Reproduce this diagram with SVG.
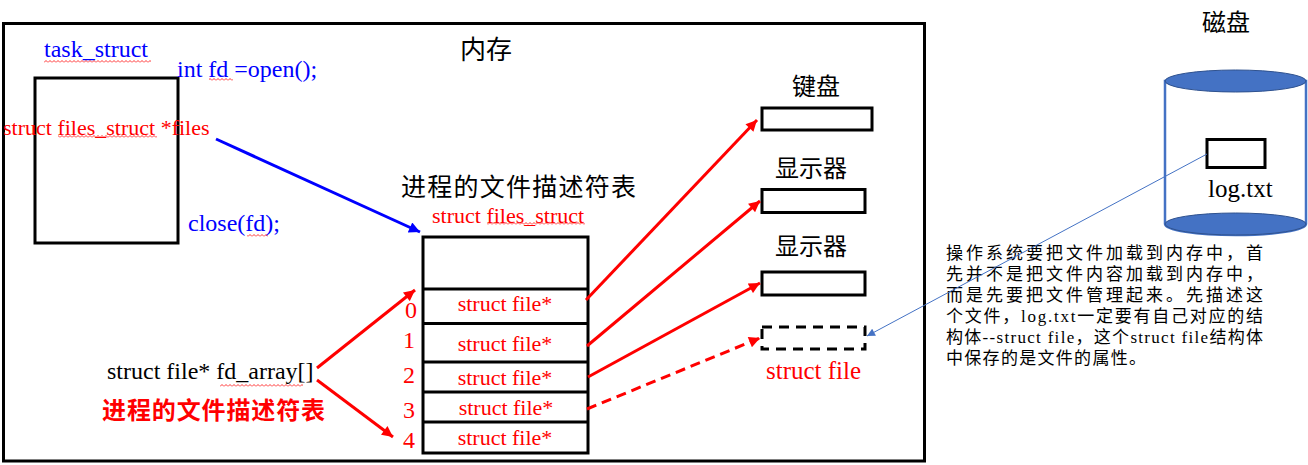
<svg xmlns="http://www.w3.org/2000/svg" width="1308" height="465" viewBox="0 0 1308 465">
<style>
.ser{font-family:"Liberation Serif","Noto Sans CJK SC",serif}
.cjk{font-family:"Noto Sans CJK SC","Liberation Serif",sans-serif}
.red{fill:#FF0000}
.blue{fill:#0000FF}
.blk{fill:#000}
.box{fill:#fff;stroke:#000;stroke-width:3}
.rl{stroke:#FF0000;stroke-width:3;fill:none}
.sq{fill:url(#sq)}
</style>
<defs>
<marker id="ar" viewBox="0 0 10 10" refX="10" refY="5" markerWidth="13" markerHeight="11" markerUnits="userSpaceOnUse" orient="auto"><path d="M0,0 L10,5 L0,10 z" fill="#FF0000"/></marker>
<marker id="ab" viewBox="0 0 10 10" refX="10" refY="5" markerWidth="13" markerHeight="11" markerUnits="userSpaceOnUse" orient="auto"><path d="M0,0 L10,5 L0,10 z" fill="#0000FF"/></marker>
<marker id="at" viewBox="0 0 10 10" refX="10" refY="5" markerWidth="9" markerHeight="8" markerUnits="userSpaceOnUse" orient="auto"><path d="M0,0 L10,5 L0,10 z" fill="#4472C4"/></marker>
<pattern id="sq" width="4" height="3" patternUnits="userSpaceOnUse"><path d="M0,2.5 L2,0.5 L4,2.5" fill="none" stroke="#FF0000" stroke-width="0.8"/></pattern>
</defs>

<g id="memory">
<rect x="3.5" y="23.5" width="921" height="437.5" fill="none" stroke="#000" stroke-width="3"/>
<text x="486" y="59" class="cjk blk" font-size="26" text-anchor="middle">内存</text>
</g>

<g id="task_struct">
<rect class="box" x="35" y="78" width="143" height="165"/>
<text x="44" y="57" class="ser blue" font-size="24">task_struct</text>
<rect class="sq" x="44" y="60" width="107" height="3"/>
<text x="177" y="77" class="ser blue" font-size="24">int fd =open();</text>
<rect class="sq" x="209" y="78" width="24" height="3"/>
<text x="3" y="135" class="ser red" font-size="22">struct files_struct *files</text>
<rect class="sq" x="58" y="135" width="99" height="3"/>
<text x="188" y="231" class="ser blue" font-size="24">close(fd);</text>
<rect class="sq" x="247" y="234" width="21" height="3"/>
</g>

<g id="fd_table">
<text x="401" y="196" class="cjk blk" font-size="25" textLength="235" lengthAdjust="spacing">进程的文件描述符表</text>
<text x="432" y="223" class="ser red" font-size="22">struct files_struct</text>
<rect class="sq" x="487" y="222" width="98" height="3"/>
<rect class="box" x="423" y="237" width="165" height="216"/>
<path d="M423,289H588M423,323.5H588M423,362H588M423,392H588M423,422H588" stroke="#000" stroke-width="3"/>
<g class="ser red" font-size="22" text-anchor="middle">
<text x="505" y="311">struct file*</text>
<text x="505" y="351">struct file*</text>
<text x="505" y="385">struct file*</text>
<text x="506" y="415">struct file*</text>
<text x="505" y="445">struct file*</text>
</g>
<g class="ser red" font-size="24" text-anchor="middle">
<text x="411" y="318">0</text>
<text x="409" y="348">1</text>
<text x="409" y="383">2</text>
<text x="409" y="418">3</text>
<text x="409" y="448">4</text>
</g>
</g>

<g id="fd_array">
<text x="107" y="379" class="ser blk" font-size="24">struct file* fd_array[]</text>
<rect class="sq" x="220" y="384" width="83" height="3"/>
<text x="102" y="419" class="cjk red" font-size="24" font-weight="bold" textLength="223" lengthAdjust="spacing">进程的文件描述符表</text>
</g>

<g id="keyboard">
<text x="816" y="95" class="cjk blk" font-size="24" text-anchor="middle">键盘</text>
<rect class="box" x="762" y="108" width="110" height="22"/>
</g>
<g id="display1">
<text x="811" y="177" class="cjk blk" font-size="24" text-anchor="middle">显示器</text>
<rect class="box" x="762" y="189.5" width="103" height="23"/>
</g>
<g id="display2">
<text x="811" y="255" class="cjk blk" font-size="24" text-anchor="middle">显示器</text>
<rect class="box" x="762" y="272" width="103" height="23"/>
</g>
<g id="struct_file">
<rect x="762" y="327" width="103" height="22" fill="#fff" stroke="#000" stroke-width="3" stroke-dasharray="10,7"/>
<text x="766" y="379" class="ser red" font-size="25">struct file</text>
</g>

<g id="disk">
<text x="1226" y="31" class="cjk blk" font-size="24" text-anchor="middle">磁盘</text>
<path d="M1165,81 L1165,224 A70.5,11 0 0 0 1306,224 L1306,81 Z" fill="#fff" stroke="#4472C4" stroke-width="2.5"/>
<ellipse cx="1235.5" cy="81" rx="70.5" ry="11" fill="#4472C4" stroke="#2F528F" stroke-width="1"/>
<ellipse cx="1235.5" cy="224" rx="70.5" ry="11" fill="#4472C4" stroke="#2F528F" stroke-width="1"/>
<rect class="box" x="1207" y="139.5" width="58" height="28"/>
<text x="1208" y="197" class="ser blk" font-size="25">log.txt</text>
</g>

<g id="note" class="ser blk" font-size="17">
<text x="946" y="259" textLength="317" lengthAdjust="spacing">操作系统要把文件加载到内存中，首</text>
<text x="946" y="280" textLength="317" lengthAdjust="spacing">先并不是把文件内容加载到内存中，</text>
<text x="946" y="301" textLength="317" lengthAdjust="spacing">而是先要把文件管理起来。先描述这</text>
<text x="946" y="322" textLength="317" lengthAdjust="spacing">个文件，log.txt一定要有自己对应的结</text>
<text x="946" y="343" textLength="317" lengthAdjust="spacing">构体--struct file，这个struct file结构体</text>
<text x="946" y="364" textLength="200" lengthAdjust="spacing">中保存的是文件的属性。</text>
</g>

<g id="connectors">
<line x1="216" y1="139" x2="420" y2="232" stroke="#0000FF" stroke-width="3" marker-end="url(#ab)"/>
<line class="rl" x1="317" y1="368" x2="415" y2="290" marker-end="url(#ar)"/>
<line class="rl" x1="317" y1="380" x2="393" y2="437" marker-end="url(#ar)"/>
<line class="rl" x1="586" y1="300" x2="757" y2="120" marker-end="url(#ar)"/>
<line class="rl" x1="587" y1="346" x2="760" y2="201" marker-end="url(#ar)"/>
<line class="rl" x1="588" y1="377" x2="760" y2="283" marker-end="url(#ar)"/>
<line class="rl" x1="587" y1="409" x2="760" y2="338" stroke-dasharray="10,6" marker-end="url(#ar)"/>
<line x1="1207" y1="154" x2="867" y2="336" stroke="#4472C4" stroke-width="1" marker-end="url(#at)"/>
</g>
</svg>
